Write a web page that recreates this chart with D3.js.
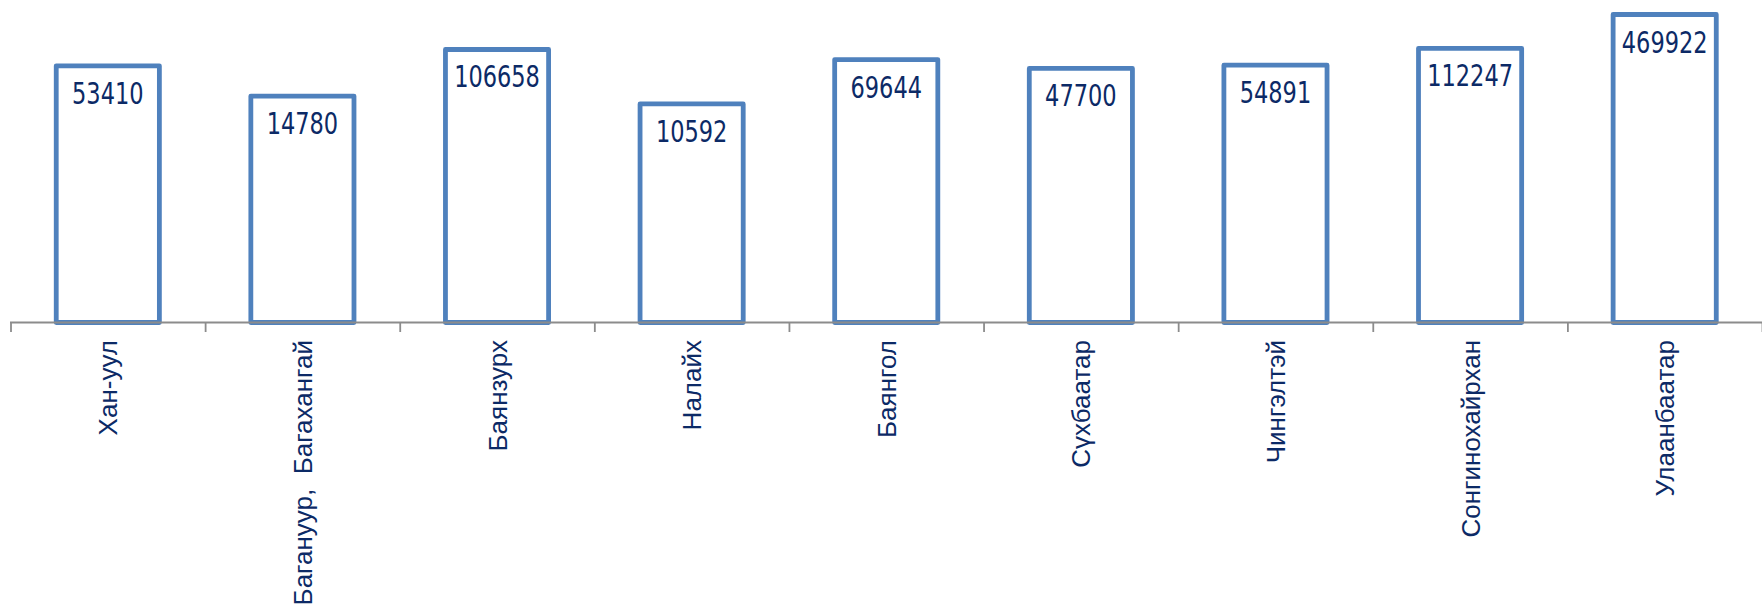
<!DOCTYPE html>
<html><head><meta charset="utf-8">
<script src="https://cdn.jsdelivr.net/npm/d3@7"></script>
<style>html,body{margin:0;padding:0;background:#fff;}svg{display:block;}</style>
</head><body>
<svg id="c" width="1762" height="605"></svg>
<script>
const categories = ["Хан-уул","Багануур,  Багахангай","Баянзурх","Налайх","Баянгол","Сүхбаатар","Чингэлтэй","Сонгинохайрхан","Улаанбаатар"];
const values = [53410,14780,106658,10592,69644,47700,54891,112247,469922];

const svg = d3.select("#c");
const W = 1762;
const baseY = 322.5;
const x = d3.scaleBand().domain(categories).range([10.5, W]).paddingInner(0.47).paddingOuter(0.235);
const y = d3.scaleLog().domain([1, 1e6]).range([baseY, -3.3]);
const step = x.step(), bw = x.bandwidth();
const navy = "#0c2a66";
const axisColor = "#8c8c8c";

// bars
svg.selectAll("rect.bar").data(values).enter().append("rect").attr("class","bar")
  .attr("x", (d,i) => x(categories[i]))
  .attr("width", bw)
  .attr("y", d => y(d))
  .attr("height", d => baseY - y(d))
  .attr("fill", "#fff").attr("stroke", "#4f81bd").attr("stroke-width", 4.8)
  .attr("stroke-linejoin", "round");

// axis line and ticks (drawn over the bars)
svg.append("line").attr("x1", 10).attr("x2", W).attr("y1", baseY).attr("y2", baseY)
  .attr("stroke", axisColor).attr("stroke-width", 1.8);
const tickXs = categories.map(c => x(c) - step * 0.235).concat([x(categories[categories.length-1]) + bw + step*0.235]);
svg.selectAll("line.tick").data(tickXs).enter().append("line").attr("class","tick")
  .attr("x1", d => d + 0.5).attr("x2", d => d + 0.5).attr("y1", baseY).attr("y2", baseY + 9.5)
  .attr("stroke", axisColor).attr("stroke-width", 1.8);

// value labels
svg.selectAll("text.val").data(values).enter().append("text").attr("class","val")
  .attr("transform", (d,i) => `translate(${x(categories[i]) + bw/2},${y(d) + 38}) scale(1,1.18)`)
  .attr("text-anchor", "middle")
  .attr("font-family", "'DejaVu Sans Condensed', 'DejaVu Sans', sans-serif")
  .attr("font-size", 25)
  .attr("fill", navy)
  .text(d => d);

// category labels
svg.selectAll("text.cat").data(categories).enter().append("text").attr("class","cat")
  .attr("transform", d => `translate(${x(d) + bw/2 + 9.5},340) rotate(-90)`)
  .attr("text-anchor", "end")
  .attr("font-family", "'Liberation Sans', Arial, sans-serif")
  .attr("font-size", 26)
  .attr("fill", navy)
  .attr("xml:space", "preserve")
  .style("white-space", "pre")
  .text(d => d);
</script>
</body></html>
